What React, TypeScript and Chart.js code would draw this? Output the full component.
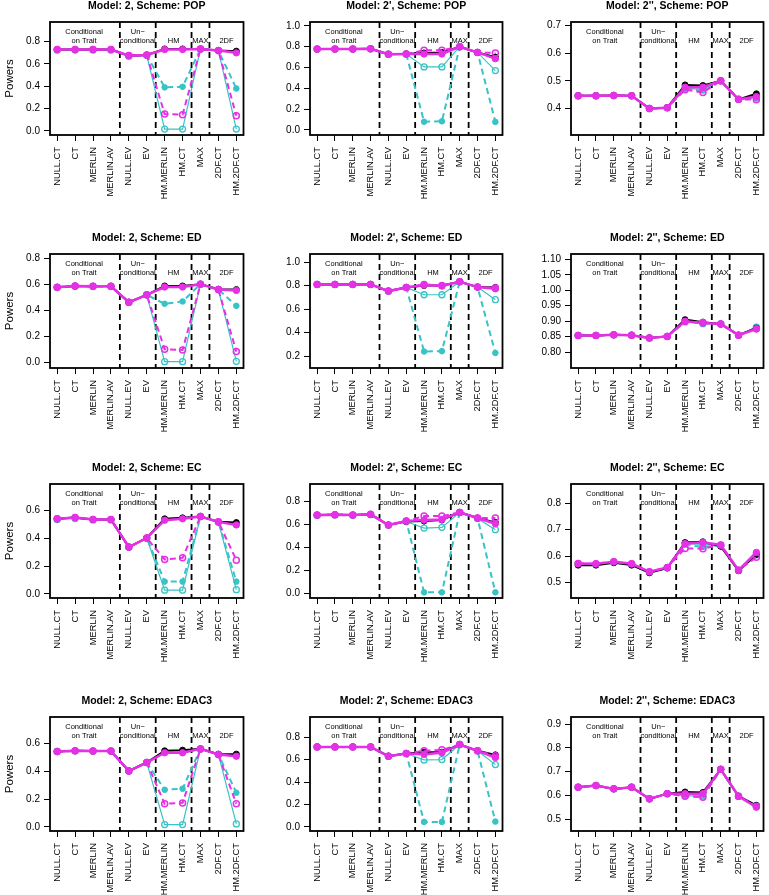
import React, { useEffect, useRef } from "react";
import { Chart, registerables } from "chart.js";
Chart.register(...registerables);

// ---------- categories & annotations ----------
const CATEGORIES = ["NULL.CT", "CT", "MERLIN", "MERLIN.AV", "NULL.EV", "EV", "HM.MERLIN", "HM.CT", "MAX", "2DF.CT", "HM.2DF.CT"];
const GROUP_LABELS = [["Conditional", "on Trait"], ["Un\u2212", "conditional"], ["HM"], ["MAX"], ["2DF"]];
const GROUP_CENTERS = [2.5, 5.5, 7.5, 9, 10.45];
const DIVIDERS = [4.5, 6.5, 8.5, 9.5];

const TITLES = [
  "Model: 2, Scheme: POP", "Model: 2', Scheme: POP", "Model: 2'', Scheme: POP",
  "Model: 2, Scheme: ED", "Model: 2', Scheme: ED", "Model: 2'', Scheme: ED",
  "Model: 2, Scheme: EC", "Model: 2', Scheme: EC", "Model: 2'', Scheme: EC",
  "Model: 2, Scheme: EDAC3", "Model: 2', Scheme: EDAC3", "Model: 2'', Scheme: EDAC3",
];

// ---------- y axis ranges & tick labels ----------
const Y_MIN = [-0.038, -0.05, 0.3045, -0.041, 0.10, 0.749, -0.029, -0.04, 0.442, -0.029, -0.036, 0.451];
const Y_MAX = [0.977, 1.038, 0.712, 0.836, 1.068, 1.117, 0.79, 0.951, 0.872, 0.79, 0.979, 0.93];
const TICKS_0_08 = ["0.0", "0.2", "0.4", "0.6", "0.8"];
const TICKS_0_10 = ["0.0", "0.2", "0.4", "0.6", "0.8", "1.0"];
const TICKS_04_07 = ["0.4", "0.5", "0.6", "0.7"];
const TICKS_02_10 = ["0.2", "0.4", "0.6", "0.8", "1.0"];
const TICKS_080_110 = ["0.80", "0.85", "0.90", "0.95", "1.00", "1.05", "1.10"];
const TICKS_0_06 = ["0.0", "0.2", "0.4", "0.6"];
const TICKS_05_08 = ["0.5", "0.6", "0.7", "0.8"];
const TICKS_05_09 = ["0.5", "0.6", "0.7", "0.8", "0.9"];
const Y_TICKS = [TICKS_0_08, TICKS_0_10, TICKS_04_07, TICKS_0_08, TICKS_02_10, TICKS_080_110, TICKS_0_06, TICKS_0_08, TICKS_05_08, TICKS_0_06, TICKS_0_08, TICKS_05_09];

// ---------- series values: black, magenta solid, magenta dashed, cyan solid, cyan dashed ----------
// Model 2, POP
const M2_POP_BLACK = [0.73, 0.73, 0.73, 0.73, 0.675, 0.68, 0.735, 0.735, 0.735, 0.72, 0.715];
const M2_POP_MAG = [0.73, 0.73, 0.73, 0.73, 0.675, 0.68, 0.73, 0.73, 0.735, 0.72, 0.70];
const M2_POP_MAG_D = [0.73, 0.73, 0.73, 0.73, 0.675, 0.68, 0.15, 0.145, 0.735, 0.72, 0.135];
const M2_POP_CYA = [0.725, 0.725, 0.725, 0.725, 0.67, 0.678, 0.015, 0.015, 0.735, 0.72, 0.015];
const M2_POP_CYA_D = [0.73, 0.73, 0.73, 0.73, 0.675, 0.68, 0.39, 0.395, 0.735, 0.72, 0.38];
// Model 2', POP
const M2P_POP_BLACK = [0.777, 0.777, 0.777, 0.78, 0.728, 0.73, 0.74, 0.745, 0.80, 0.745, 0.70];
const M2P_POP_MAG = [0.777, 0.777, 0.777, 0.78, 0.728, 0.73, 0.73, 0.73, 0.80, 0.745, 0.685];
const M2P_POP_MAG_D = [0.777, 0.777, 0.777, 0.78, 0.728, 0.73, 0.765, 0.765, 0.80, 0.745, 0.74];
const M2P_POP_CYA = [0.777, 0.777, 0.777, 0.78, 0.728, 0.73, 0.605, 0.605, 0.80, 0.745, 0.57];
const M2P_POP_CYA_D = [0.777, 0.777, 0.777, 0.78, 0.728, 0.73, 0.078, 0.082, 0.80, 0.745, 0.076];
// Model 2'', POP
const M2PP_POP_BLACK = [0.446, 0.446, 0.447, 0.446, 0.40, 0.403, 0.485, 0.483, 0.50, 0.433, 0.453];
const M2PP_POP_MAG = [0.446, 0.446, 0.447, 0.446, 0.40, 0.403, 0.477, 0.477, 0.50, 0.433, 0.443];
const M2PP_POP_MAG_D = [0.446, 0.446, 0.447, 0.446, 0.40, 0.403, 0.468, 0.458, 0.50, 0.433, 0.432];
const M2PP_POP_CYA = [0.446, 0.446, 0.447, 0.446, 0.40, 0.403, 0.472, 0.47, 0.50, 0.433, 0.441];
const M2PP_POP_CYA_D = [0.446, 0.446, 0.447, 0.446, 0.40, 0.403, 0.47, 0.465, 0.50, 0.433, 0.436];
// Model 2, ED
const M2_ED_BLACK = [0.58, 0.59, 0.588, 0.588, 0.465, 0.522, 0.59, 0.59, 0.604, 0.565, 0.562];
const M2_ED_MAG = [0.58, 0.59, 0.588, 0.588, 0.465, 0.522, 0.582, 0.582, 0.604, 0.562, 0.556];
const M2_ED_MAG_D = [0.58, 0.59, 0.588, 0.588, 0.465, 0.522, 0.103, 0.098, 0.604, 0.562, 0.085];
const M2_ED_CYA = [0.578, 0.588, 0.586, 0.586, 0.463, 0.52, 0.008, 0.008, 0.604, 0.562, 0.01];
const M2_ED_CYA_D = [0.58, 0.59, 0.588, 0.588, 0.465, 0.522, 0.453, 0.471, 0.604, 0.562, 0.437];
// Model 2', ED
const M2P_ED_BLACK = [0.81, 0.81, 0.81, 0.81, 0.753, 0.784, 0.80, 0.80, 0.833, 0.787, 0.784];
const M2P_ED_MAG = [0.81, 0.81, 0.81, 0.81, 0.753, 0.784, 0.804, 0.796, 0.833, 0.787, 0.773];
const M2P_ED_MAG_D = [0.81, 0.81, 0.81, 0.81, 0.753, 0.784, 0.81, 0.80, 0.833, 0.787, 0.78];
const M2P_ED_CYA = [0.81, 0.81, 0.81, 0.81, 0.753, 0.784, 0.722, 0.722, 0.833, 0.787, 0.68];
const M2P_ED_CYA_D = [0.81, 0.81, 0.81, 0.81, 0.753, 0.784, 0.24, 0.243, 0.833, 0.787, 0.228];
// Model 2'', ED
const M2PP_ED_BLACK = [0.854, 0.854, 0.856, 0.855, 0.846, 0.851, 0.905, 0.897, 0.891, 0.855, 0.878];
const M2PP_ED_MAG = [0.854, 0.854, 0.856, 0.855, 0.846, 0.851, 0.90, 0.894, 0.891, 0.855, 0.875];
const M2PP_ED_MAG_D = [0.854, 0.854, 0.856, 0.855, 0.846, 0.851, 0.898, 0.896, 0.891, 0.855, 0.876];
const M2PP_ED_CYA = [0.854, 0.854, 0.856, 0.855, 0.846, 0.851, 0.90, 0.892, 0.891, 0.855, 0.881];
const M2PP_ED_CYA_D = [0.854, 0.854, 0.856, 0.855, 0.846, 0.851, 0.899, 0.893, 0.891, 0.855, 0.879];
// Model 2, EC
const M2_EC_BLACK = [0.54, 0.549, 0.535, 0.535, 0.337, 0.402, 0.54, 0.547, 0.557, 0.518, 0.513];
const M2_EC_MAG = [0.54, 0.549, 0.535, 0.535, 0.337, 0.402, 0.53, 0.54, 0.557, 0.518, 0.496];
const M2_EC_MAG_D = [0.54, 0.549, 0.535, 0.535, 0.337, 0.402, 0.248, 0.26, 0.557, 0.518, 0.243];
const M2_EC_CYA = [0.535, 0.542, 0.532, 0.532, 0.335, 0.40, 0.027, 0.027, 0.557, 0.515, 0.031];
const M2_EC_CYA_D = [0.54, 0.549, 0.535, 0.535, 0.337, 0.402, 0.089, 0.089, 0.557, 0.518, 0.089];
// Model 2', EC
const M2P_EC_BLACK = [0.681, 0.684, 0.681, 0.687, 0.594, 0.625, 0.629, 0.638, 0.704, 0.655, 0.617];
const M2P_EC_MAG = [0.681, 0.684, 0.681, 0.687, 0.594, 0.629, 0.638, 0.643, 0.704, 0.655, 0.606];
const M2P_EC_MAG_D = [0.681, 0.684, 0.681, 0.687, 0.594, 0.629, 0.672, 0.672, 0.704, 0.655, 0.655];
const M2P_EC_CYA = [0.678, 0.681, 0.679, 0.684, 0.594, 0.625, 0.568, 0.574, 0.704, 0.652, 0.554];
const M2P_EC_CYA_D = [0.681, 0.684, 0.681, 0.687, 0.594, 0.629, 0.009, 0.009, 0.704, 0.655, 0.009];
// Model 2'', EC
const M2PP_EC_BLACK = [0.566, 0.566, 0.575, 0.566, 0.537, 0.555, 0.651, 0.654, 0.637, 0.545, 0.606];
const M2PP_EC_MAG = [0.572, 0.571, 0.579, 0.571, 0.541, 0.557, 0.647, 0.652, 0.642, 0.547, 0.614];
const M2PP_EC_MAG_D = [0.572, 0.571, 0.579, 0.571, 0.541, 0.557, 0.629, 0.628, 0.642, 0.547, 0.596];
const M2PP_EC_CYA = [0.569, 0.569, 0.577, 0.569, 0.539, 0.556, 0.647, 0.644, 0.64, 0.546, 0.606];
const M2PP_EC_CYA_D = [0.569, 0.569, 0.577, 0.569, 0.539, 0.556, 0.642, 0.635, 0.64, 0.546, 0.604];
// Model 2, EDAC3
const M2_EDAC3_BLACK = [0.542, 0.547, 0.545, 0.545, 0.402, 0.463, 0.547, 0.552, 0.561, 0.523, 0.523];
const M2_EDAC3_MAG = [0.542, 0.547, 0.545, 0.545, 0.402, 0.463, 0.533, 0.533, 0.561, 0.52, 0.508];
const M2_EDAC3_MAG_D = [0.542, 0.547, 0.545, 0.545, 0.402, 0.463, 0.166, 0.173, 0.561, 0.52, 0.166];
const M2_EDAC3_CYA = [0.542, 0.547, 0.545, 0.545, 0.402, 0.463, 0.017, 0.017, 0.561, 0.52, 0.022];
const M2_EDAC3_CYA_D = [0.542, 0.547, 0.545, 0.545, 0.402, 0.463, 0.267, 0.275, 0.561, 0.52, 0.246];
// Model 2', EDAC3
const M2P_EDAC3_BLACK = [0.713, 0.713, 0.713, 0.713, 0.63, 0.654, 0.666, 0.666, 0.734, 0.678, 0.642];
const M2P_EDAC3_MAG = [0.713, 0.713, 0.713, 0.713, 0.63, 0.654, 0.648, 0.66, 0.734, 0.678, 0.618];
const M2P_EDAC3_MAG_D = [0.713, 0.713, 0.713, 0.713, 0.63, 0.654, 0.678, 0.687, 0.734, 0.678, 0.633];
const M2P_EDAC3_CYA = [0.713, 0.713, 0.713, 0.713, 0.63, 0.654, 0.597, 0.60, 0.734, 0.678, 0.555];
const M2P_EDAC3_CYA_D = [0.713, 0.713, 0.713, 0.713, 0.63, 0.654, 0.045, 0.045, 0.734, 0.678, 0.048];
// Model 2'', EDAC3
const M2PP_EDAC3_BLACK = [0.635, 0.642, 0.628, 0.635, 0.586, 0.608, 0.615, 0.613, 0.71, 0.597, 0.559];
const M2PP_EDAC3_MAG = [0.635, 0.642, 0.628, 0.635, 0.586, 0.608, 0.608, 0.608, 0.71, 0.597, 0.551];
const M2PP_EDAC3_MAG_D = [0.635, 0.642, 0.628, 0.635, 0.586, 0.608, 0.597, 0.593, 0.71, 0.597, 0.555];
const M2PP_EDAC3_CYA = [0.635, 0.642, 0.628, 0.635, 0.586, 0.608, 0.599, 0.599, 0.71, 0.597, 0.556];
const M2PP_EDAC3_CYA_D = [0.635, 0.642, 0.628, 0.635, 0.586, 0.608, 0.599, 0.599, 0.71, 0.597, 0.556];

const SERIES = [
  [M2_POP_BLACK, M2_POP_MAG, M2_POP_MAG_D, M2_POP_CYA, M2_POP_CYA_D],
  [M2P_POP_BLACK, M2P_POP_MAG, M2P_POP_MAG_D, M2P_POP_CYA, M2P_POP_CYA_D],
  [M2PP_POP_BLACK, M2PP_POP_MAG, M2PP_POP_MAG_D, M2PP_POP_CYA, M2PP_POP_CYA_D],
  [M2_ED_BLACK, M2_ED_MAG, M2_ED_MAG_D, M2_ED_CYA, M2_ED_CYA_D],
  [M2P_ED_BLACK, M2P_ED_MAG, M2P_ED_MAG_D, M2P_ED_CYA, M2P_ED_CYA_D],
  [M2PP_ED_BLACK, M2PP_ED_MAG, M2PP_ED_MAG_D, M2PP_ED_CYA, M2PP_ED_CYA_D],
  [M2_EC_BLACK, M2_EC_MAG, M2_EC_MAG_D, M2_EC_CYA, M2_EC_CYA_D],
  [M2P_EC_BLACK, M2P_EC_MAG, M2P_EC_MAG_D, M2P_EC_CYA, M2P_EC_CYA_D],
  [M2PP_EC_BLACK, M2PP_EC_MAG, M2PP_EC_MAG_D, M2PP_EC_CYA, M2PP_EC_CYA_D],
  [M2_EDAC3_BLACK, M2_EDAC3_MAG, M2_EDAC3_MAG_D, M2_EDAC3_CYA, M2_EDAC3_CYA_D],
  [M2P_EDAC3_BLACK, M2P_EDAC3_MAG, M2P_EDAC3_MAG_D, M2P_EDAC3_CYA, M2P_EDAC3_CYA_D],
  [M2PP_EDAC3_BLACK, M2PP_EDAC3_MAG, M2PP_EDAC3_MAG_D, M2PP_EDAC3_CYA, M2PP_EDAC3_CYA_D],
];

// ---------- layout & style ----------
const FONT = "'Liberation Sans', Arial, Helvetica, sans-serif";
const MAGENTA = "#E530E5";
const CYAN = "#38C3C6";
const COL_LEFT = [50, 310, 571];
const COL_RIGHT = [247, 506, 767];
const ROW_TOP = [22, 254, 484, 717];
const ROW_BOTTOM = [135, 368, 598, 831];
const PAD_LEFT = 50;
const PAD_TOP = 22;
const PAD_RIGHT = 2;
const XAXIS_H = 75;

function makeDataset(vals: number[], color: string, width: number, dash: number[], radius: number, filled: boolean, pbw: number) {
  return {
    data: vals.map((v, i) => ({ x: i + 1, y: v })),
    borderColor: color,
    backgroundColor: color,
    borderWidth: width,
    borderDash: dash,
    pointRadius: radius,
    pointBackgroundColor: filled ? color : "rgba(0,0,0,0)",
    pointBorderColor: color,
    pointBorderWidth: pbw,
    tension: 0,
    fill: false,
  };
}

function decorPlugin(title: string) {
  return {
    id: "decor",
    beforeDatasetsDraw(chart: any) {
      const { ctx, chartArea: a, scales } = chart;
      const x = scales.x;
      ctx.save();
      ctx.strokeStyle = "#000";
      ctx.lineWidth = 1.8;
      ctx.setLineDash([6, 4]);
      for (const d of DIVIDERS) {
        const px = x.getPixelForValue(d);
        ctx.beginPath();
        ctx.moveTo(px, a.top);
        ctx.lineTo(px, a.bottom);
        ctx.stroke();
      }
      ctx.setLineDash([]);
      ctx.fillStyle = "#000";
      ctx.font = `7.5px ${FONT}`;
      ctx.textAlign = "center";
      ctx.textBaseline = "middle";
      GROUP_LABELS.forEach((lines, i) => {
        const px = x.getPixelForValue(GROUP_CENTERS[i]);
        if (lines.length === 2) {
          ctx.fillText(lines[0], px, a.top + 10);
          ctx.fillText(lines[1], px, a.top + 19);
        } else {
          ctx.fillText(lines[0], px, a.top + 19);
        }
      });
      ctx.restore();
    },
    afterDraw(chart: any) {
      const { ctx, chartArea: a } = chart;
      ctx.save();
      ctx.strokeStyle = "#000";
      ctx.lineWidth = 1.8;
      ctx.strokeRect(a.left, a.top, a.right - a.left, a.bottom - a.top);
      ctx.fillStyle = "#000";
      ctx.font = `bold 10.5px ${FONT}`;
      ctx.textAlign = "center";
      ctx.textBaseline = "middle";
      ctx.fillText(title, (a.left + a.right) / 2, a.top - 16);
      ctx.restore();
    },
  };
}

function Panel({ idx }: { idx: number }) {
  const ref = useRef<HTMLCanvasElement>(null);
  const col = idx % 3;
  const row = Math.floor(idx / 3);
  const width = COL_RIGHT[col] - COL_LEFT[col] + PAD_LEFT + PAD_RIGHT;
  const height = ROW_BOTTOM[row] - ROW_TOP[row] + PAD_TOP + XAXIS_H;
  const left = COL_LEFT[col] - PAD_LEFT;
  const top = ROW_TOP[row] - PAD_TOP;

  useEffect(() => {
    const [black, mag, magD, cya, cyaD] = SERIES[idx];
    const yLabels = Y_TICKS[idx];
    const chart = new Chart(ref.current as HTMLCanvasElement, {
      type: "line",
      data: {
        datasets: [
          makeDataset(mag, MAGENTA, 2.5, [], 3.2, true, 1),
          makeDataset(magD, MAGENTA, 2, [6, 4], 3, false, 1.5),
          makeDataset(black, "#000000", 2, [], 3, true, 1),
          makeDataset(cyaD, CYAN, 2, [6, 4], 2.8, true, 1),
          makeDataset(cya, CYAN, 1.2, [], 3, false, 1.3),
        ] as any,
      },
      options: {
        animation: false,
        responsive: false,
        events: [],
        layout: { padding: { top: PAD_TOP, left: 0, right: PAD_RIGHT, bottom: 0 } },
        plugins: { legend: { display: false }, tooltip: { enabled: false }, title: { display: false } },
        scales: {
          x: {
            type: "linear",
            min: 0.6,
            max: 11.4,
            afterBuildTicks: (s: any) => {
              s.ticks = CATEGORIES.map((_, i) => ({ value: i + 1 }));
            },
            afterFit: (s: any) => {
              s.height = XAXIS_H;
              s.paddingLeft = 0;
              s.paddingRight = 0;
            },
            ticks: {
              autoSkip: false,
              minRotation: 90,
              maxRotation: 90,
              padding: 6,
              color: "#000",
              font: { family: FONT, size: 9.3 },
              callback: (v: any) => CATEGORIES[Math.round(Number(v)) - 1],
            },
            grid: { drawOnChartArea: false, drawTicks: true, tickLength: 6, color: "#000", lineWidth: 1 },
            border: { display: false },
          },
          y: {
            type: "linear",
            min: Y_MIN[idx],
            max: Y_MAX[idx],
            afterBuildTicks: (s: any) => {
              s.ticks = yLabels.map((t) => ({ value: Number(t) }));
            },
            afterFit: (s: any) => {
              s.width = PAD_LEFT;
              s.paddingTop = 0;
              s.paddingBottom = 0;
            },
            ticks: {
              autoSkip: false,
              padding: 4,
              color: "#000",
              font: { family: FONT, size: 10 },
              callback: (_v: any, i: number) => yLabels[i],
            },
            grid: { drawOnChartArea: false, drawTicks: true, tickLength: 6, color: "#000", lineWidth: 1 },
            border: { display: false },
            title: {
              display: col === 0,
              text: "Powers",
              color: "#000",
              font: { family: FONT, size: 11.5 },
              padding: { top: 3, bottom: 0 },
            },
          },
        },
      } as any,
      plugins: [decorPlugin(TITLES[idx])],
    });
    return () => chart.destroy();
  }, [idx]);

  return (
    <canvas
      ref={ref}
      width={width}
      height={height}
      style={{ position: "absolute", left, top, width, height, display: "block" }}
    />
  );
}

export default function App() {
  return (
    <div
      style={{
        position: "absolute",
        left: 0,
        top: 0,
        width: 769,
        height: 895,
        overflow: "hidden",
        background: "#fff",
      }}
    >
      {TITLES.map((_, i) => (
        <Panel key={i} idx={i} />
      ))}
    </div>
  );
}
